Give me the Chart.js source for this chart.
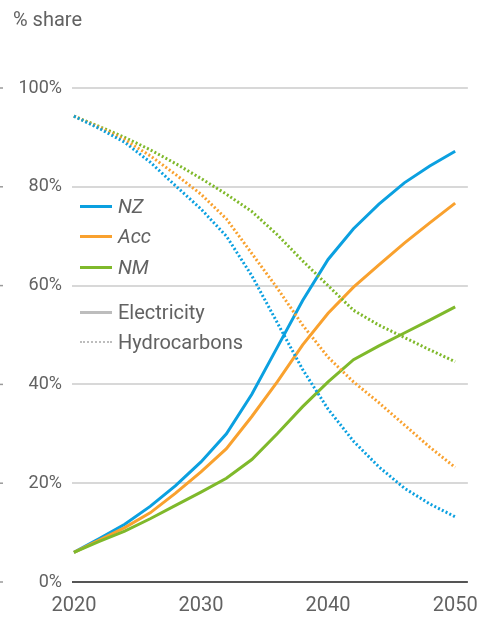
<!DOCTYPE html>
<html>
<head>
<meta charset="utf-8">
<script src="https://cdn.jsdelivr.net/npm/chart.js@4.4.1/dist/chart.umd.min.js"></script>
<style>
    body { margin: 0; background: #fff; font-family: Roboto, "Liberation Sans", sans-serif; color: #626262; }
    #wrap { position: relative; width: 490px; height: 619px; }
    #title { position: absolute; left: 13px; top: 7px; font-size: 20px; }
    .leg { position: absolute; left: 80px; height: 24px; font-size: 20px; display: flex; align-items: center; }
    .leg .sw { width: 32px; height: 0; border-top: 3px solid; margin-right: 6px; }
    .leg i { font-style: italic; }
</style>
</head>
<body>
<div id="wrap">
    <canvas id="shareChart" width="490" height="619"></canvas>
    <div id="title">% share</div>
    <div class="leg" style="top:194px"><span class="sw" style="border-color:#0ba0e0"></span><i>NZ</i></div>
    <div class="leg" style="top:224px"><span class="sw" style="border-color:#f9a12e"></span><i>Acc</i></div>
    <div class="leg" style="top:255px"><span class="sw" style="border-color:#7fb92b"></span><i>NM</i></div>
    <div class="leg" style="top:300px"><span class="sw" style="border-color:#bdbdbd"></span>Electricity</div>
    <div class="leg" style="top:330px"><span class="sw" style="border-top:2px dotted #bdbdbd"></span>Hydrocarbons</div>
</div>
<script>
// years and shares (%)
var years = [2020, 2022, 2024, 2026, 2028, 2030, 2032, 2034, 2036, 2038, 2040, 2042, 2044, 2046, 2048, 2050];

var nzElec  = [6, 8.8, 11.7, 15.3, 19.5, 24.3, 30, 38, 47.5, 57, 65.3, 71.5, 76.5, 80.8, 84.2, 87.2];
var accElec = [6, 8.5, 11, 14, 18, 22.3, 27, 33.5, 40.5, 48, 54.4, 59.7, 64.2, 68.6, 72.7, 76.7];
var nmElec  = [6, 8.2, 10.3, 12.8, 15.5, 18.2, 21, 24.8, 30, 35.5, 40.5, 45, 47.8, 50.4, 53, 55.7];

var nzHydro  = [94.3, 91.8, 89, 85, 80.2, 75.5, 70, 62, 52.5, 43, 35, 28.5, 23.3, 19, 15.8, 13.2];
var accHydro = [94.3, 92, 89.5, 86.3, 82.5, 78.5, 73.5, 66.5, 59.5, 52, 45.5, 40.5, 36.3, 31.8, 27.3, 23.2];
var nmHydro  = [94.3, 92.2, 90, 87.5, 84.7, 81.7, 78.5, 75, 70.3, 65, 60, 55, 52, 49.5, 47, 44.6];

var xTicks = [2020, 2030, 2040, 2050];

var BLUE = '#0ba0e0', ORANGE = '#f9a12e', GREEN = '#7fb92b';

function pts(vals) {
    return vals.map(function (v, i) { return { x: years[i], y: v }; });
}

function dotted(vals, color) {
    return { data: pts(vals), borderColor: color, borderWidth: 3, borderDash: [2, 2.2], borderCapStyle: 'butt', pointRadius: 0, tension: 0 };
}

function solid(vals, color) {
    return { data: pts(vals), borderColor: color, borderWidth: 3, pointRadius: 0, tension: 0 };
}

// little dashes at the left edge of each gridline
var edgeTicks = {
    id: 'edgeTicks',
    afterDraw: function (chart) {
        var ctx = chart.ctx, y = chart.scales.y;
        ctx.save();
        ctx.strokeStyle = '#9a9a9a';
        ctx.lineWidth = 1.5;
        y.ticks.forEach(function (t) {
            var py = y.getPixelForValue(t.value);
            ctx.beginPath();
            ctx.moveTo(0, py);
            ctx.lineTo(3, py);
            ctx.stroke();
        });
        ctx.restore();
    }
};

var ctx = document.getElementById('shareChart').getContext('2d');
var shareChart = new Chart(ctx, {
    type: 'line',
    data: {
        datasets: [
            dotted(nzHydro, BLUE),
            dotted(accHydro, ORANGE),
            dotted(nmHydro, GREEN),
            solid(nmElec, GREEN),
            solid(accElec, ORANGE),
            solid(nzElec, BLUE)
        ]
    },
    options: {
        responsive: false,
        animation: false,
        layout: { padding: { top: 88, right: 11, left: 0, bottom: 0 } },
        plugins: { legend: { display: false }, tooltip: { enabled: false } },
        scales: {
            x: {
                type: 'linear',
                min: 2019.85,
                max: 2051,
                afterBuildTicks: function (scale) {
                    scale.ticks = xTicks.map(function (v) { return { value: v }; });
                },
                afterFit: function (scale) { scale.height = 37; },
                grid: { display: false, drawTicks: false },
                border: { display: false },
                ticks: {
                    padding: 12,
                    maxRotation: 0,
                    autoSkip: false,
                    color: '#626262',
                    font: { family: 'Roboto', size: 20 },
                    callback: function (v) { return String(v); }
                }
            },
            y: {
                min: 0,
                max: 100,
                afterFit: function (scale) { scale.width = 72; },
                grid: {
                    drawTicks: false,
                    lineWidth: 2,
                    color: function (c) { return c.tick.value === 0 ? '#555555' : '#d8d8d8'; }
                },
                border: { display: false },
                ticks: {
                    stepSize: 20,
                    padding: 10,
                    color: '#626262',
                    font: { family: 'Roboto', size: 18 },
                    callback: function (v) { return v + '%'; }
                }
            }
        }
    },
    plugins: [edgeTicks]
});
</script>
</body>
</html>
